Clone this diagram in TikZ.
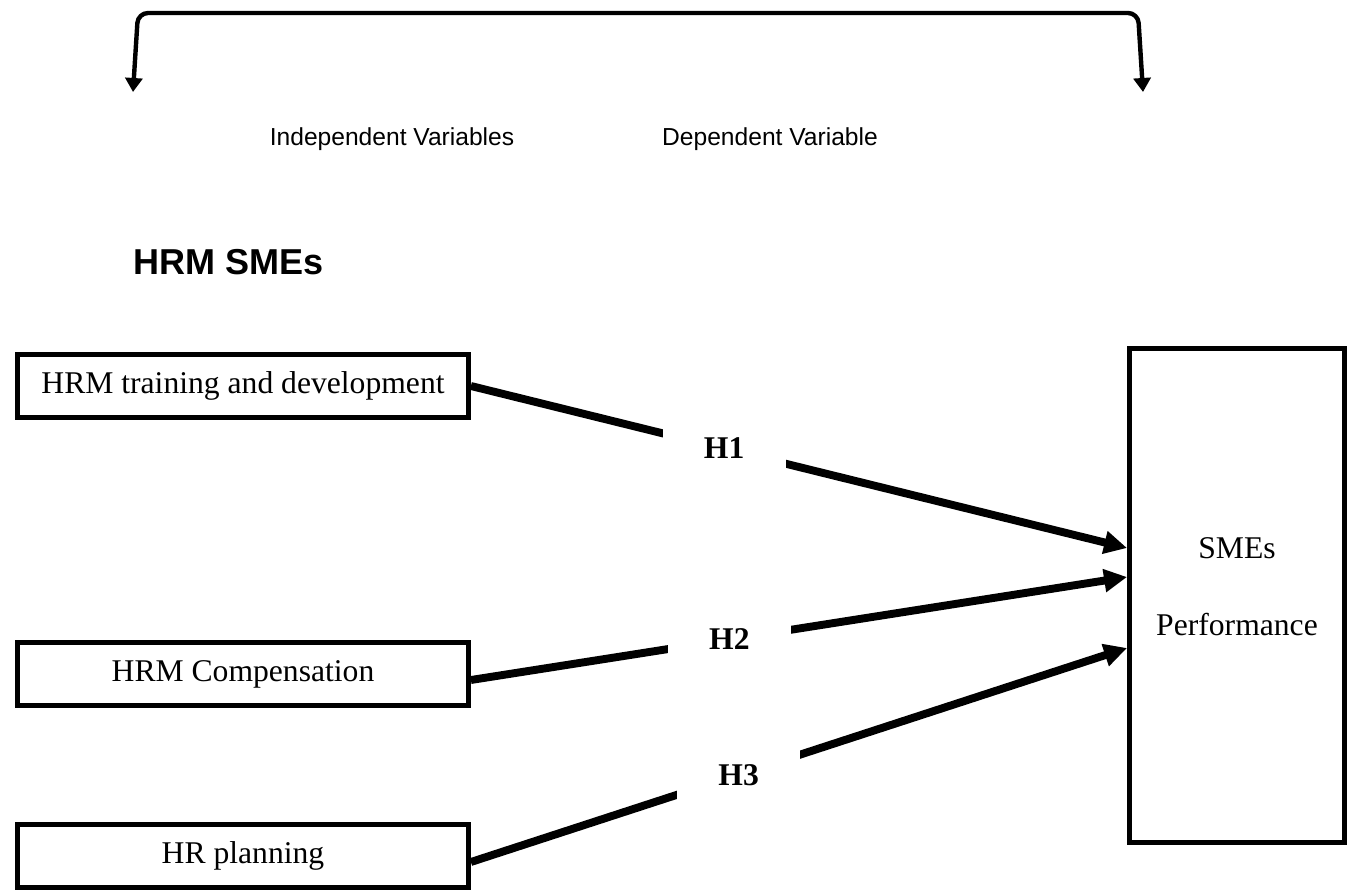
\documentclass[tikz,border=0pt]{standalone}
\usepackage{fontspec}
\setmainfont{Liberation Serif}
\setsansfont{Liberation Sans}
\usetikzlibrary{arrows.meta}
\tikzset{
  varbox/.style={draw, line width=2.8pt, minimum width=9.02cm, minimum height=1.26cm, font=\fontsize{18}{20}\selectfont},
  link/.style={line width=4.5pt, -{Triangle[length=0.46cm,width=0.44cm]}},
  hyp/.style={fill=white, minimum width=2.46cm, minimum height=1.1cm, font=\fontsize{18}{20}\selectfont\bfseries},
  heading/.style={font=\sffamily\fontsize{14}{16}\selectfont}
}

\begin{document}
\begin{tikzpicture}[x=0.02cm,y=-0.02cm]
  \useasboundingbox (0,0) rectangle (1354,891);

  \draw[line width=2.5pt, rounded corners=0.2cm, {Triangle[length=0.28cm,width=0.34cm]}-{Triangle[length=0.28cm,width=0.34cm]}]
    (133,92) -- (138,13) -- (1138,13) -- (1143,92);

  \node[heading] (indep) at (392,139) {Independent Variables};
  \node[heading] (dep) at (770,139) {Dependent Variable};
  \node[font=\sffamily\bfseries\fontsize{20.5}{24}\selectfont, anchor=base west] (title) at (127,275) {HRM SMEs};

  \node[varbox] (train) at (243,386) {HRM training and development};
  \node[varbox] (comp) at (243,674) {HRM Compensation};
  \node[varbox] (plan) at (243,856) {HR planning};

  \node[draw, line width=2.8pt, minimum width=4.3cm, minimum height=9.88cm] (perf) at (1237,595.5) {};
  \node[font=\fontsize{18}{20}\selectfont, anchor=base] (smes) at (1237,558) {SMEs};
  \node[font=\fontsize{18}{20}\selectfont, anchor=base] (pfm) at (1237,635) {Performance};

  \draw[link] (train.east) -- node[hyp, pos=.386] (h1) {H1} ([yshift=0.95cm]perf.west);
  \draw[link] ([yshift=-0.12cm]comp.east) -- node[hyp, pos=.394] (h2) {H2} ([yshift=0.37cm]perf.west);
  \draw[link] ([yshift=-0.12cm]plan.east) -- node[hyp, pos=.408] (h3) {H3} ([yshift=-1.05cm]perf.west);
\end{tikzpicture}
\end{document}
